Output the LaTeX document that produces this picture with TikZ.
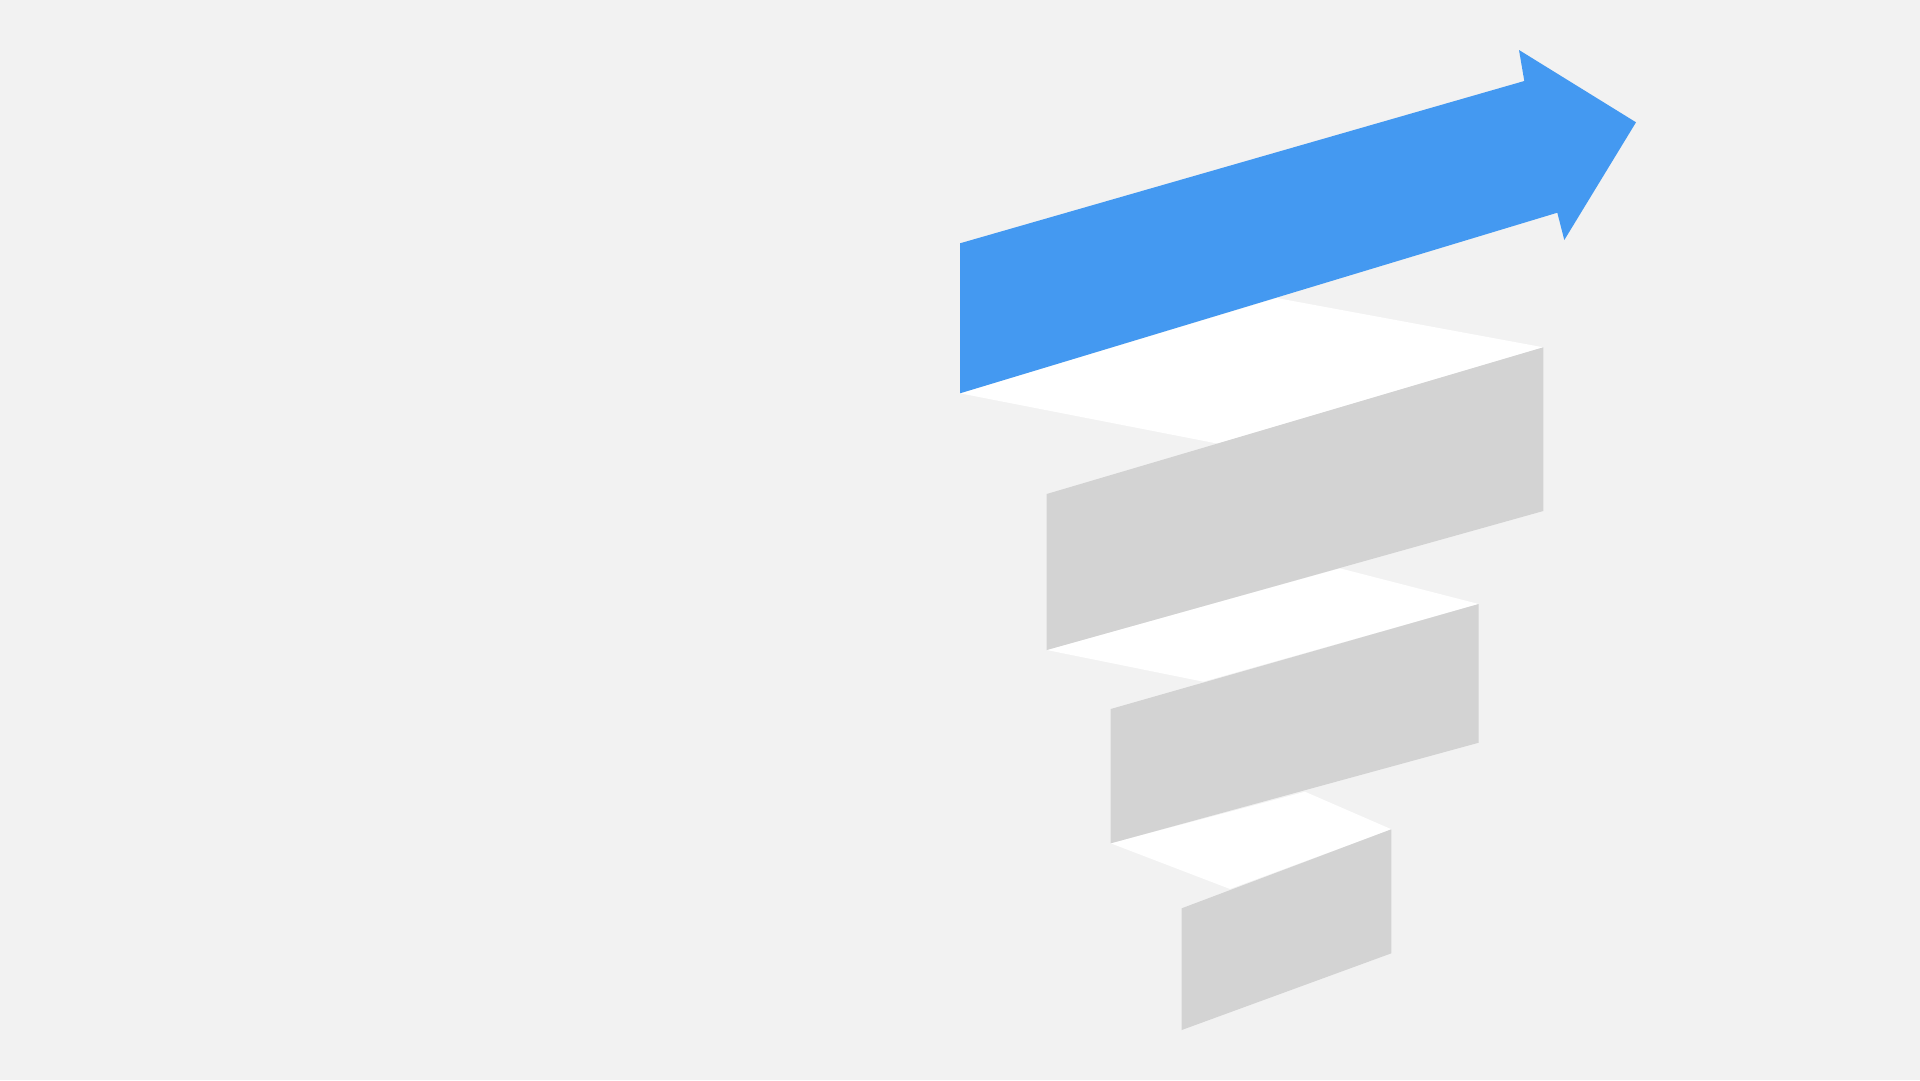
\documentclass[tikz,border=0pt]{standalone}
\definecolor{bgc}{HTML}{F2F2F2}
\definecolor{arrowblue}{HTML}{4499F1}
\definecolor{stepgray}{HTML}{D3D3D3}
\tikzset{
  whiteband/.style={fill=white, draw=none},
  grayband/.style={fill=stepgray, draw=none},
  bluearrow/.style={fill=arrowblue, draw=none}
}
\begin{document}
\begin{tikzpicture}[x=1pt,y=-1pt]
  \fill[bgc] (0,0) rectangle (1920,1080);
  \useasboundingbox (0,0) rectangle (1920,1080);
  % white connecting bands
  \path[whiteband] (960,393.3) -- (1276.7,298) -- (1543.3,347.3) -- (1217.6,443.6) -- cycle;
  \path[whiteband] (1046.7,650) -- (1340,568.3) -- (1478.7,604) -- (1203.3,681.7) -- cycle;
  \path[whiteband] (1110.7,843.3) -- (1305,791.7) -- (1391.5,829.3) -- (1230,889) -- cycle;
  % blue arrow
  \path[bluearrow] (960,243.3) -- (1524.3,81) -- (1519,50) -- (1636,122.3) -- (1564.3,240) -- (1557.3,212.7) -- (960,393.3) -- cycle;
  % gray steps
  \path[grayband] (1046.7,494) -- (1543.3,347.3) -- (1543.3,511) -- (1046.7,650) -- cycle;
  \path[grayband] (1110.7,709) -- (1478.7,604) -- (1478.7,742.7) -- (1110.7,843.3) -- cycle;
  \path[grayband] (1181.7,908.3) -- (1391.3,829.3) -- (1391.3,953.3) -- (1181.7,1030) -- cycle;
\end{tikzpicture}
\end{document}
